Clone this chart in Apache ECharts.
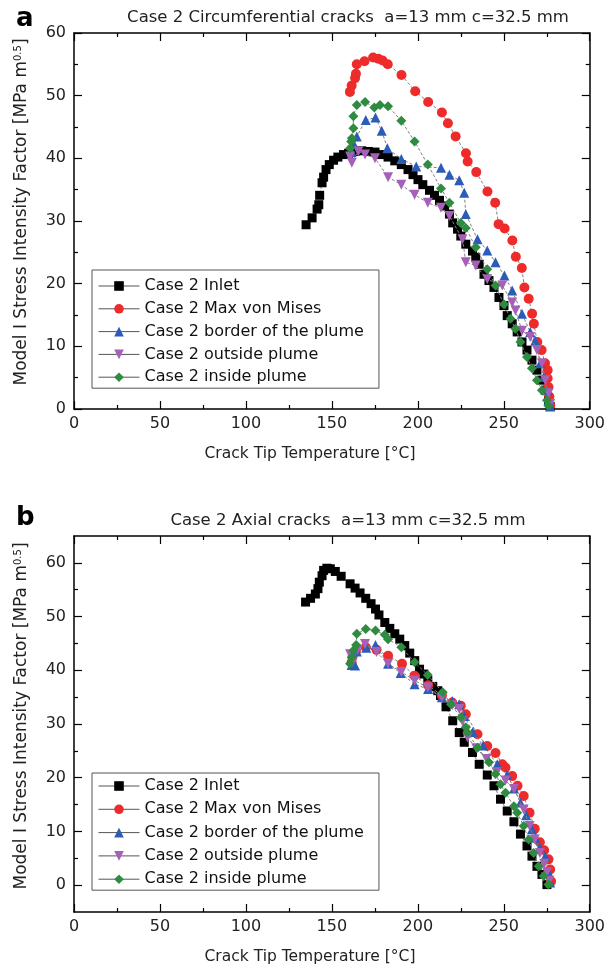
<!DOCTYPE html>
<html><head><meta charset="utf-8">
<script src="https://cdn.jsdelivr.net/npm/echarts@6/dist/echarts.min.js"></script>
<style>html,body{margin:0;padding:0;background:#fff}#c{width:608px;height:971px}</style>
</head><body><div id="c"></div>
<script>
// ---- names / labels ----
const seriesNames = ['Case 2 Inlet','Case 2 Max von Mises','Case 2 border of the plume','Case 2 outside plume','Case 2 inside plume'];
const titleA = 'Case 2 Circumferential cracks  a=13 mm c=32.5 mm';
const titleB = 'Case 2 Axial cracks  a=13 mm c=32.5 mm';
const xTitle = 'Crack Tip Temperature [°C]';
const yTitle = 'Model I Stress Intensity Factor [MPa m{sup|0.5}]';
const xTickValues = [0,50,100,150,200,250,300];
const yTickValuesA = [0,10,20,30,40,50,60];
const yTickValuesB = [0,10,20,30,40,50,60];
const yMinorTicksB = [5,15,25,35,45,55];

// ---- panel a: circumferential cracks [T, K] ----
const aInlet = [[135.0,29.4],[138.5,30.5],[141.4,31.9],[142.4,32.6],[142.9,34.1],[144.3,36.1],[145.2,37.0],[146.6,38.2],[148.5,39.0],[151.0,39.7],[153.5,40.2],[156.8,40.6],[159.7,40.8],[163.5,41.1],[167.3,41.2],[171.2,41.1],[175.1,41.0],[178.9,40.6],[182.7,40.2],[186.6,39.6],[190.4,39.0],[194.3,38.2],[197.2,37.4],[200.1,36.6],[202.9,35.8],[206.8,34.9],[209.7,34.1],[212.6,33.3],[215.5,32.4],[218.4,31.1],[220.3,29.7],[223.1,28.7],[225.0,27.6],[227.9,26.3],[231.8,25.2],[233.7,24.2],[235.7,23.1],[238.5,21.5],[241.4,20.5],[244.3,19.4],[247.2,17.8],[250.1,16.5],[252.0,14.9],[254.9,13.6],[257.8,12.3],[260.6,10.7],[263.5,9.4],[266.4,7.8],[269.3,6.2],[272.2,4.6],[274.1,3.0],[276.0,1.4],[277.0,0.4]];
const aMaxVM = [[160.5,50.6],[161.5,51.6],[163.5,52.8],[164.0,53.5],[164.5,55.0],[169.0,55.5],[174.0,56.1],[177.0,55.9],[179.5,55.6],[182.5,55.0],[190.5,53.3],[198.5,50.7],[206.0,49.0],[214.0,47.3],[217.5,45.6],[222.0,43.5],[228.0,40.8],[229.0,39.5],[234.0,37.8],[240.5,34.7],[245.0,32.9],[247.0,29.5],[250.5,28.8],[255.0,26.9],[257.0,24.3],[260.5,22.5],[262.0,19.4],[264.5,17.6],[266.5,15.2],[267.5,13.6],[269.5,10.7],[272.0,9.4],[274.0,7.3],[275.5,6.2],[275.5,4.9],[276.0,3.5],[276.5,2.0],[277.0,0.6]];
const aBorder = [[161.5,41.0],[162.5,42.4],[164.5,43.5],[169.7,46.1],[175.4,46.5],[179.0,44.4],[182.3,41.6],[190.4,39.9],[199.1,38.7],[213.5,38.5],[218.4,37.4],[224.1,36.5],[227.0,34.5],[227.9,31.1],[234.7,27.1],[240.4,25.3],[245.2,23.4],[250.4,21.3],[254.9,18.9],[260.6,15.2],[265.4,12.3],[268.3,10.9],[271.2,7.3],[273.2,5.1],[275.1,3.0],[276.0,1.4],[277.0,0.4]];
const aOutside = [[160.6,40.3],[161.6,39.3],[165.4,41.1],[169.3,40.6],[175.1,40.0],[182.7,37.0],[190.4,35.8],[198.1,34.2],[205.8,32.9],[213.5,32.1],[218.4,30.8],[226.0,27.1],[227.9,23.4],[233.7,22.9],[240.4,20.7],[249.1,19.7],[254.9,17.0],[256.8,15.7],[260.6,12.5],[265.4,11.5],[269.3,9.4],[272.2,7.3],[274.1,4.6],[276.0,2.5],[277.0,0.8]];
const aInside = [[160.6,41.6],[161.2,42.7],[161.6,43.2],[162.5,44.8],[162.5,46.7],[164.5,48.5],[169.3,49.0],[174.7,48.1],[178.0,48.5],[182.7,48.3],[190.4,46.0],[198.1,42.7],[205.8,39.0],[213.5,35.2],[218.4,32.9],[225.0,29.7],[227.9,28.9],[233.7,25.8],[240.4,22.3],[245.2,19.7],[250.1,16.7],[253.9,14.4],[256.8,12.8],[259.7,10.7],[263.5,8.3],[266.4,6.5],[269.3,4.6],[272.2,3.0],[275.1,1.4],[276.0,0.5]];

// ---- panel b: axial cracks [T, K] ----
const bInlet = [[134.7,52.7],[137.6,53.4],[140.4,54.2],[141.9,55.2],[142.7,56.4],[144.3,57.6],[145.2,58.6],[147.1,59.0],[149.1,58.9],[152.0,58.4],[155.4,57.5],[160.6,56.1],[163.5,55.3],[166.4,54.4],[169.7,53.4],[172.8,52.4],[175.4,51.4],[177.4,50.3],[180.8,48.9],[183.7,47.8],[186.6,46.8],[189.5,45.8],[192.4,44.6],[195.3,43.2],[198.2,41.8],[201.0,40.2],[203.5,39.3],[205.8,38.1],[208.7,37.0],[211.6,36.2],[213.2,35.3],[216.4,33.2],[220.3,30.6],[224.1,28.4],[227.0,26.6],[231.8,24.7],[235.7,22.5],[240.4,20.5],[244.3,18.5],[248.1,16.0],[252.0,13.8],[255.9,11.8],[259.7,9.5],[263.5,7.3],[266.4,5.4],[269.3,3.5],[272.2,2.0],[275.1,0.1]];
const bMaxVM = [[161.5,41.5],[162.0,42.5],[164.0,43.5],[169.7,44.3],[176.0,43.8],[182.7,42.7],[190.8,41.2],[198.0,39.0],[206.0,37.2],[214.0,35.3],[220.0,34.0],[225.0,33.4],[227.9,31.8],[234.7,28.1],[240.4,25.9],[245.2,24.6],[249.1,22.5],[251.0,21.9],[254.9,20.3],[258.0,18.5],[261.6,16.6],[265.0,13.5],[268.0,10.5],[271.0,8.0],[273.5,6.5],[276.0,4.8],[277.0,2.9],[277.5,0.7]];
const bBorder = [[161.5,41.0],[163.5,40.9],[164.5,43.5],[170.0,44.2],[175.4,44.7],[182.7,41.2],[190.0,39.5],[198.1,37.4],[206.0,36.5],[214.0,35.0],[220.0,34.3],[224.1,33.7],[227.0,31.5],[232.0,28.5],[238.0,26.0],[246.2,22.5],[252.0,20.5],[256.0,18.0],[259.7,15.4],[263.0,13.0],[266.4,10.4],[268.3,8.8],[271.0,7.0],[274.1,5.4],[276.0,2.4],[277.0,0.5]];
const bOutside = [[160.6,43.0],[162.0,41.5],[165.0,43.8],[169.3,44.9],[176.0,43.4],[182.7,41.2],[190.4,39.7],[198.1,38.1],[205.8,36.8],[214.0,35.0],[220.0,33.5],[224.1,32.8],[226.0,30.5],[228.9,27.5],[234.0,25.5],[240.0,23.5],[246.0,21.0],[251.0,19.5],[255.9,17.9],[261.6,14.1],[265.0,11.0],[268.0,8.5],[271.0,6.0],[273.5,4.0],[275.1,2.4],[276.5,0.8]];
const bInside = [[160.6,41.2],[161.6,42.4],[162.5,43.7],[164.1,44.7],[164.5,46.8],[169.7,47.7],[175.4,47.4],[180.8,46.6],[182.7,45.8],[190.4,44.3],[198.1,41.5],[205.8,39.1],[214.5,35.9],[219.3,33.7],[225.0,31.2],[227.9,29.4],[228.9,28.4],[234.7,25.6],[241.4,22.9],[245.2,20.7],[248.1,18.8],[251.0,17.2],[255.9,14.7],[257.8,13.5],[261.6,11.0],[264.5,8.5],[267.4,6.0],[270.3,3.5],[273.2,1.7],[276.0,0.1]];

const dataA = [aInlet, aMaxVM, aBorder, aOutside, aInside];
const dataB = [bInlet, bMaxVM, bBorder, bOutside, bInside];

// ---- styles ----
const FONT = 'DejaVu Sans';
const colors = ['#000000','#EE2B2B','#2A5CB8','#A660B8','#2E8B40'];
const symbols = ['rect','circle','triangle','triangle','diamond'];
const symSizes = [9,10,10,10,10];
const symRot = [0,0,0,180,0];

const chart = echarts.init(document.getElementById('c'), null, {renderer:'canvas'});

const axisLineStyle = {show:true, onZero:false, lineStyle:{color:'#000', width:1.5}};
const noLine = {show:false, onZero:false};
function xAx(gi, pos, labels){
  return {type:'value', gridIndex:gi, position:pos, min:0, max:300, interval:50,
    axisLine:axisLineStyle, splitLine:{show:false},
    axisTick:{show:true, inside:true, length:8, lineStyle:{color:'#000', width:1.2}},
    minorTick:{show:true, splitNumber:2, length:4, lineStyle:{color:'#000', width:1.2}},
    axisLabel:{show:labels, margin:7, color:'#222', fontFamily:FONT, fontSize:16,
      customValues: xTickValues}};
}
function yAxA(pos, labels){
  return {type:'value', gridIndex:0, position:pos, min:0, max:60, interval:10,
    axisLine:axisLineStyle, splitLine:{show:false},
    axisTick:{show:true, inside:true, length:8, lineStyle:{color:'#000', width:1.2}},
    minorTick:{show:true, splitNumber:2, length:4, lineStyle:{color:'#000', width:1.2}},
    axisLabel:{show:labels, margin:8, color:'#222', fontFamily:FONT, fontSize:16, customValues:yTickValuesA}};
}
function yAxB(pos, labels, minor){
  return {type:'value', gridIndex:1, position:pos, min:-5, max:65, interval:5,
    axisLine: minor ? noLine : axisLineStyle, splitLine:{show:false},
    axisTick:{show:true, inside:true, length: minor ? 4 : 8, lineStyle:{color:'#000', width:1.2},
      customValues: minor ? yMinorTicksB : yTickValuesB},
    axisLabel:{show:labels, margin:8, color:'#222', fontFamily:FONT, fontSize:16, customValues:yTickValuesB}};
}

function mkSeries(datasets, xi, yi){
  return datasets.map((d,i)=>({
    name: seriesNames[i], type:'line', xAxisIndex:xi, yAxisIndex:yi,
    data:d, symbol:symbols[i], symbolSize:symSizes[i], symbolRotate:symRot[i],
    showSymbol:true, showAllSymbol:true,
    itemStyle:{color:colors[i], borderWidth:0},
    lineStyle:{color:'#808080', width:1, type:[3,2]},
    z: 2+i, silent:true
  }));
}

function mkLegend(top, pad, gap){
  return {show:true, orient:'vertical', left:92, top:top, selectedMode:false,
    data: seriesNames, itemWidth:41, itemHeight:12, itemGap:gap,
    backgroundColor:'#fff', borderColor:'#555', borderWidth:1, borderRadius:0,
    padding:pad,
    lineStyle:{type:'solid', color:'#555', width:1},
    textStyle:{fontFamily:FONT, fontSize:16, color:'#111', lineHeight:18}};
}

const rich = {sup:{fontFamily:FONT, fontSize:10, verticalAlign:'top', padding:[0,0,7,0], fill:'#222', color:'#222'}};
function textEl(x, y, text, font, extra){
  return Object.assign({type:'text', x:x, y:y, silent:true,
    style:{text:text, font:font, fill:'#222', textAlign:'center', textVerticalAlign:'middle', rich:rich}}, extra||{});
}

chart.setOption({
  animation:false,
  backgroundColor:'#fff',
  grid:[{left:74, right:15, top:33, height:376},{left:74, right:15, top:536, height:376}],
  xAxis:[xAx(0,'bottom',true), xAx(0,'top',false), xAx(1,'bottom',true), xAx(1,'top',false)],
  yAxis:[yAxA('left',true), yAxA('right',false), yAxB('left',true,false), yAxB('left',false,true), yAxB('right',false,false), yAxB('right',false,true)],
  legend:[mkLegend(270,[7,15,2,6],4.8), mkLegend(773,[4,15,2,6],5.3)],
  series:[...mkSeries(dataA,0,0), ...mkSeries(dataB,2,2)],
  graphic:[
    {type:'text', left:16, top:6, silent:true, style:{text:'a', font:'bold 26px "DejaVu Sans"', fill:'#000'}},
    {type:'text', left:16, top:505, silent:true, style:{text:'b', font:'bold 26px "DejaVu Sans"', fill:'#000'}},
    textEl(348, 18, titleA, '16.5px "DejaVu Sans"'),
    textEl(348, 521, titleB, '16.5px "DejaVu Sans"'),
    textEl(310, 454, xTitle, '15.5px "DejaVu Sans"'),
    textEl(310, 957, xTitle, '15.5px "DejaVu Sans"'),
    textEl(22, 212, yTitle, '17px "DejaVu Sans"', {rotation:Math.PI/2}),
    textEl(22, 716, yTitle, '17px "DejaVu Sans"', {rotation:Math.PI/2})
  ]
});
</script></body></html>
